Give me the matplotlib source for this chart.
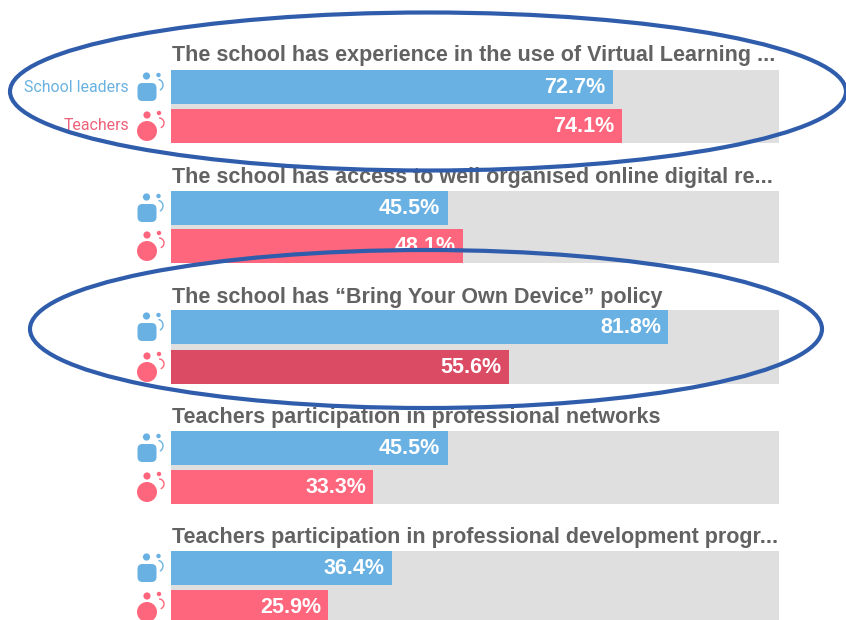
import matplotlib
matplotlib.use('Agg')
import matplotlib.pyplot as plt
from matplotlib.patches import Circle, Ellipse, FancyBboxPatch, Arc

titles = ['The school has experience in the use of Virtual Learning ...',
          'The school has access to well organised online digital re...',
          'The school has \u201cBring Your Own Device\u201d policy',
          'Teachers participation in professional networks',
          'Teachers participation in professional development progr...']
leaders = [72.7, 45.5, 81.8, 45.5, 36.4]
teachers = [74.1, 48.1, 55.6, 33.3, 25.9]

title_y = [56, 177, 297, 417, 538]
blue_top = [70, 191, 310, 431, 551]
red_top = [109, 229, 350, 470, 590]
bar_h = 34

BLUE = '#69b1e2'
RED = '#fd667c'
DARKRED = '#db4c64'
GREY = '#dfdfdf'
RING = '#2f5dab'

fig = plt.figure(figsize=(8.46, 6.2), dpi=100)

# bars: x is percent, y is pixels down the page
ax = fig.add_axes([171 / 846, 0, 608 / 846, 1])
ax.set_xlim(0, 100)
ax.set_ylim(620, 0)
ax.axis('off')

for i in range(len(titles)):
    ax.barh(blue_top[i], 100, height=red_top[i] + bar_h - blue_top[i], align='edge', color=GREY, zorder=1)
    ax.barh(blue_top[i], leaders[i], height=bar_h, align='edge', color=BLUE, zorder=2)
    c = DARKRED if i == 2 else RED
    ax.barh(red_top[i], teachers[i], height=bar_h, align='edge', color=c, zorder=2)
    ax.text(leaders[i] - 1.2, blue_top[i] + bar_h / 2 + 0.5, '%.1f%%' % leaders[i], color='white', fontsize=15.5,
            fontweight='bold', family='Liberation Sans', ha='right', va='center', zorder=3)
    ax.text(teachers[i] - 1.2, red_top[i] + bar_h / 2 + 0.5, '%.1f%%' % teachers[i], color='white', fontsize=15.5,
            fontweight='bold', family='Liberation Sans', ha='right', va='center', zorder=3)

# everything else sits on a full page overlay in pixels
over = fig.add_axes([0, 0, 1, 1])
over.set_xlim(0, 846)
over.set_ylim(620, 0)
over.axis('off')
over.patch.set_alpha(0)


def leader_icon(y):
    over.add_patch(Circle((146.5, y - 11), 3.6, color=BLUE, lw=0))
    over.add_patch(Circle((158.5, y - 12), 2.2, color=BLUE, lw=0))
    over.add_patch(FancyBboxPatch((137.5, y - 4), 19, 18, boxstyle='round,pad=0,rounding_size=5', color=BLUE, lw=0))
    over.add_patch(Arc((158, y - 2), 10, 11, theta1=-85, theta2=70, color=BLUE, lw=1))


def teacher_icon(y):
    over.add_patch(Circle((147, y - 11), 3.6, color=RED, lw=0))
    over.add_patch(Circle((159, y - 13), 2.2, color=RED, lw=0))
    over.add_patch(Circle((147, y + 5), 10, color=RED, lw=0))
    over.add_patch(Arc((159, y - 3), 10, 10, theta1=-90, theta2=70, color=RED, lw=1))


for i in range(len(titles)):
    over.text(172, title_y[i], titles[i], color='#626262', fontsize=15.5, fontweight='bold',
              family='Liberation Sans', ha='left', va='center')
    leader_icon(blue_top[i] + 17)
    teacher_icon(red_top[i] + 17)

over.text(129, 87, 'School leaders', color=BLUE, fontsize=11.4, family='Roboto', ha='right', va='center')
over.text(129, 126, 'Teachers', color='#ef6079', fontsize=11.4, family='Roboto', ha='right', va='center')

over.add_patch(Ellipse((428, 91.5), 836, 158, angle=0, fill=False, ec=RING, lw=3, zorder=5))
over.add_patch(Ellipse((426, 329), 792, 158, angle=0, fill=False, ec=RING, lw=3, zorder=5))

fig.savefig('out.png', dpi=100)
